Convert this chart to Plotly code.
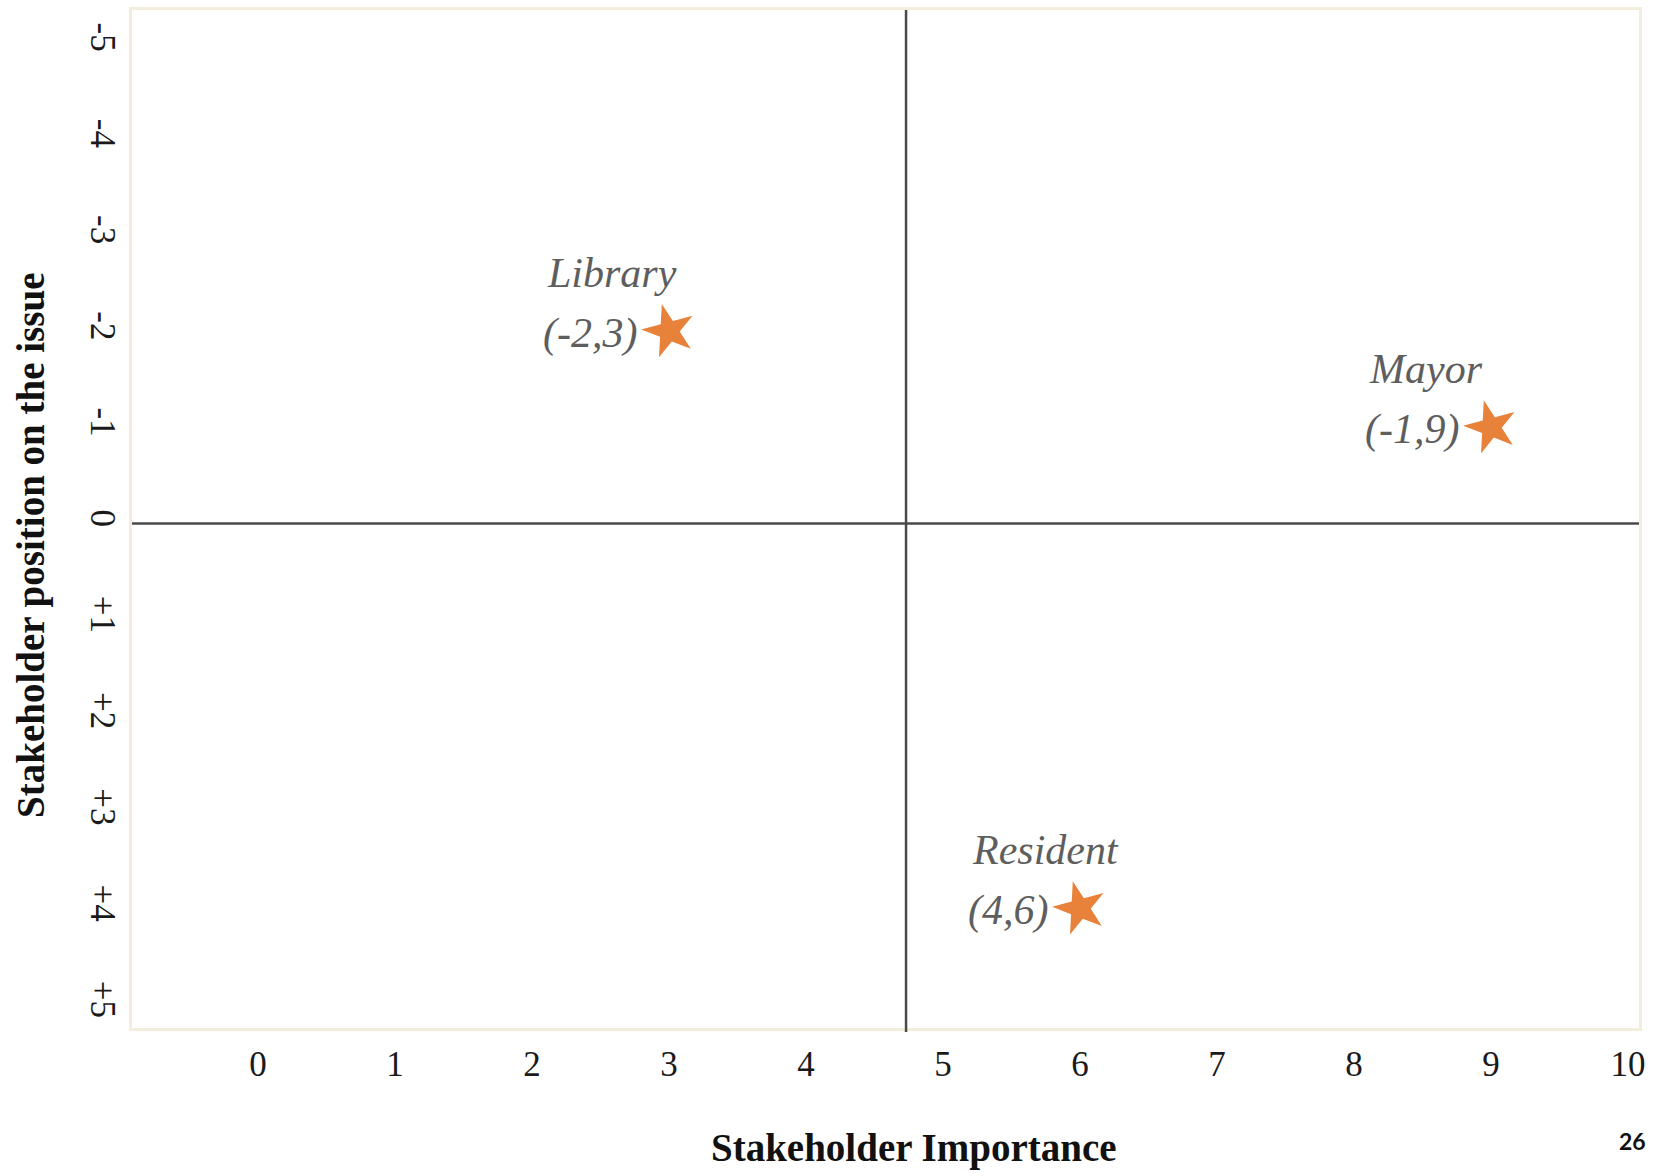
import plotly.graph_objects as go

# Stakeholders and their scores
stakeholders = ["Library", "Mayor", "Resident"]
importance = [3, 9, 6]          # x: stakeholder importance (0-10)
position = [-2, -1, 4]          # y: position on the issue (-5 .. +5)

x_ticks = list(range(0, 11))
x_tick_text = [str(v) for v in x_ticks]
y_ticks = list(range(-5, 6))
y_tick_text = [("+" + str(v)) if v > 0 else str(v) for v in y_ticks]

# Quadrant dividers
importance_split = 4.73
position_split = 0

STAR = "#E8823A"
LABEL_GREY = "#5e5e5e"
FRAME = "#F2EDDC"
DIVIDER = "#4a4a4a"

fig = go.Figure()

fig.add_trace(go.Scatter(
    x=importance, y=position, mode="markers",
    marker=dict(symbol="star", size=40, color=STAR, angle=-15,
                line=dict(width=0)),
    hoverinfo="skip", showlegend=False,
))

# rough advance widths (em) for the italic serif used in the point labels
_em = {"(": 0.333, ")": 0.333, "-": 0.333, ",": 0.25}
label_size = 42


def text_width(s, size):
    return sum(_em.get(c, 0.5) for c in s) * size


gap = 30
for name, xv, yv in zip(stakeholders, importance, position):
    coord = f"({yv},{xv})"
    fig.add_annotation(x=xv, y=yv, xref="x", yref="y", text=coord,
                       showarrow=False, xanchor="right", yanchor="middle",
                       xshift=-gap, yshift=-2,
                       font=dict(family="Liberation Serif", size=label_size,
                                 color=LABEL_GREY, style="italic"))
    fig.add_annotation(x=xv, y=yv, xref="x", yref="y", text=name,
                       showarrow=False, xanchor="left", yanchor="middle",
                       xshift=-gap - text_width(coord, label_size), yshift=58,
                       font=dict(family="Liberation Serif", size=label_size,
                                 color=LABEL_GREY, style="italic"))

# Quadrant lines
fig.add_shape(type="line", xref="x", yref="paper", x0=importance_split,
              x1=importance_split, y0=-0.004, y1=1,
              line=dict(color=DIVIDER, width=2.5), layer="above")
fig.add_shape(type="line", xref="paper", yref="y", x0=0, x1=1,
              y0=position_split, y1=position_split,
              line=dict(color=DIVIDER, width=2.5), layer="above")

# Axis titles
fig.add_annotation(text="<b>Stakeholder Importance</b>", xref="paper", yref="paper",
                   x=0.5188, y=-0.118, xanchor="center", yanchor="middle",
                   showarrow=False,
                   font=dict(family="Liberation Serif", size=39, color="#111111"))
fig.add_annotation(text="<b>Stakeholder position on the issue</b>", xref="paper",
                   yref="paper", x=-0.0667, y=0.474, xanchor="center",
                   yanchor="middle", textangle=-90, showarrow=False,
                   font=dict(family="Liberation Serif", size=39, color="#111111"))

# Page number
fig.add_annotation(text="<b>26</b>", xref="paper", yref="paper",
                   x=0.996, y=-0.111, xanchor="center", yanchor="middle",
                   showarrow=False,
                   font=dict(family="Lato", size=23, color="#111111"))

fig.update_layout(
    width=1669, height=1176,
    margin=dict(l=132, r=30, t=7, b=148),
    paper_bgcolor="white", plot_bgcolor="white",
    xaxis=dict(range=[-0.920, 10.080], tickmode="array", tickvals=x_ticks,
               ticktext=x_tick_text, showgrid=False, zeroline=False,
               showline=True, mirror=True, linecolor=FRAME, linewidth=3,
               ticks="", ticklabelstandoff=3,
               tickfont=dict(family="Liberation Serif", size=35, color="#1a1a1a")),
    yaxis=dict(range=[5.244, -5.337], tickmode="array", tickvals=y_ticks,
               ticktext=y_tick_text, showgrid=False, zeroline=False,
               showline=True, mirror=True, linecolor=FRAME, linewidth=3,
               ticks="", tickangle=90, ticklabelstandoff=-4,
               tickfont=dict(family="Liberation Serif", size=35, color="#1a1a1a")),
)

fig.write_html("out.html")
